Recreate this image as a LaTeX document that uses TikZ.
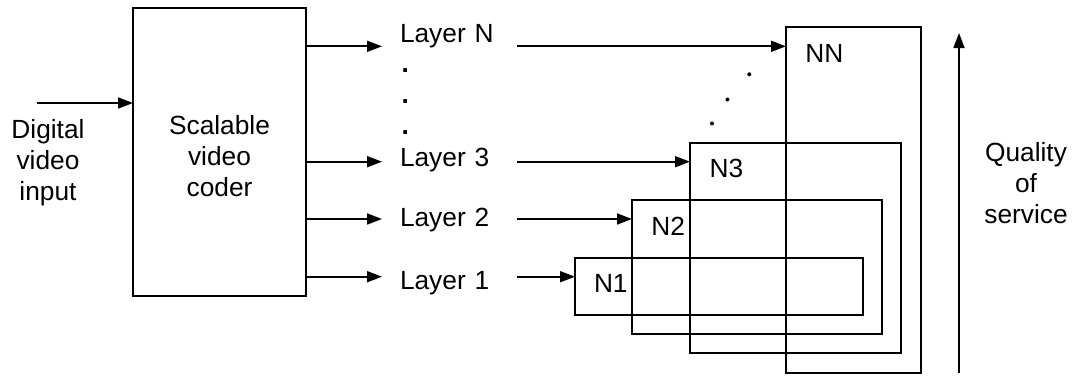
\documentclass[tikz,border=0pt]{standalone}
\usepackage{fontspec}
\setmainfont{Liberation Sans}
\usetikzlibrary{arrows.meta}
\begin{document}
\begin{tikzpicture}[x=1pt,y=-1pt,
  every node/.style={font=\fontsize{26.3}{31}\selectfont, inner sep=0pt, outer sep=0pt},
  arr/.style={line width=1.7pt, -{Triangle[length=15pt,width=11pt]}},
  box/.style={draw, line width=1.7pt, rectangle, inner sep=0pt, outer sep=0pt, anchor=north west},
  layer/.style={anchor=base west, inner xsep=18pt, text width=99pt, align=left},
  lbl/.style={anchor=base west},
  mlt/.style={anchor=base, align=center},
  sdot/.style={circle, fill, minimum size=4pt}]
\useasboundingbox (0,0) rectangle (1074,376);
% boxes
\node[box, minimum width=173pt, minimum height=288pt] (coder) at (133,8) {};
\node[mlt] (codertxt) at (219.5,196.7) {Scalable\\video\\coder};
\node[box, minimum width=134.7pt, minimum height=345.4pt] (NN) at (786,27.3) {};
\node[box, minimum width=211.3pt, minimum height=210.6pt] (N3) at (690,142.7) {};
\node[box, minimum width=250pt, minimum height=134pt] (N2) at (632,200.3) {};
\node[box, minimum width=288.3pt, minimum height=57.3pt] (N1) at (575,257.7) {};
\node[lbl] (tNN) at (805.3,62.7) {NN};
\node[lbl] (tN3) at (709.7,177.7) {N3};
\node[lbl] (tN2) at (651.3,235) {N2};
\node[lbl] (tN1) at (594,292.7) {N1};
% layer labels
\node[layer] (LN) at (382,42.7) {Layer N};
\node[layer] (L3) at (382,166) {Layer 3};
\node[layer] (L2) at (382,226.7) {Layer 2};
\node[layer] (L1) at (382,289.3) {Layer 1};
\node[lbl] (d1) at (401.5,72.5) {\bfseries .};
\node[lbl] (d2) at (401.5,103.5) {\bfseries .};
\node[lbl] (d3) at (401.5,134.5) {\bfseries .};
\node[sdot] (s1) at (749.3,74.3) {};
\node[sdot] (s2) at (727.5,99.5) {};
\node[sdot] (s3) at (712,123.5) {};
% input / output texts
\node[mlt] (input) at (48,200) {Digital\\video\\input};
\node[mlt] (qos) at (1026,223.5) {Quality\\of\\service};
% arrow levels
\coordinate (yN) at (0,46.3);
\coordinate (y3) at (0,161.7);
\coordinate (y2) at (0,219);
\coordinate (y1) at (0,276.7);
\coordinate (in) at (36.7,103);
\coordinate (qb) at (959,372.7);
\coordinate (qt) at (959,33);
% connectors
\draw[arr] (in) -- (coder.west |- in);
\draw[arr] (coder.east |- yN) -- (LN.west |- yN);
\draw[arr] (coder.east |- y3) -- (L3.west |- y3);
\draw[arr] (coder.east |- y2) -- (L2.west |- y2);
\draw[arr] (coder.east |- y1) -- (L1.west |- y1);
\draw[arr] (LN.east |- yN) -- (NN.west |- yN);
\draw[arr] (L3.east |- y3) -- (N3.west |- y3);
\draw[arr] (L2.east |- y2) -- (N2.west |- y2);
\draw[arr] (L1.east |- y1) -- (N1.west |- y1);
\draw[arr] (qb) -- (qt);
\end{tikzpicture}
\end{document}
